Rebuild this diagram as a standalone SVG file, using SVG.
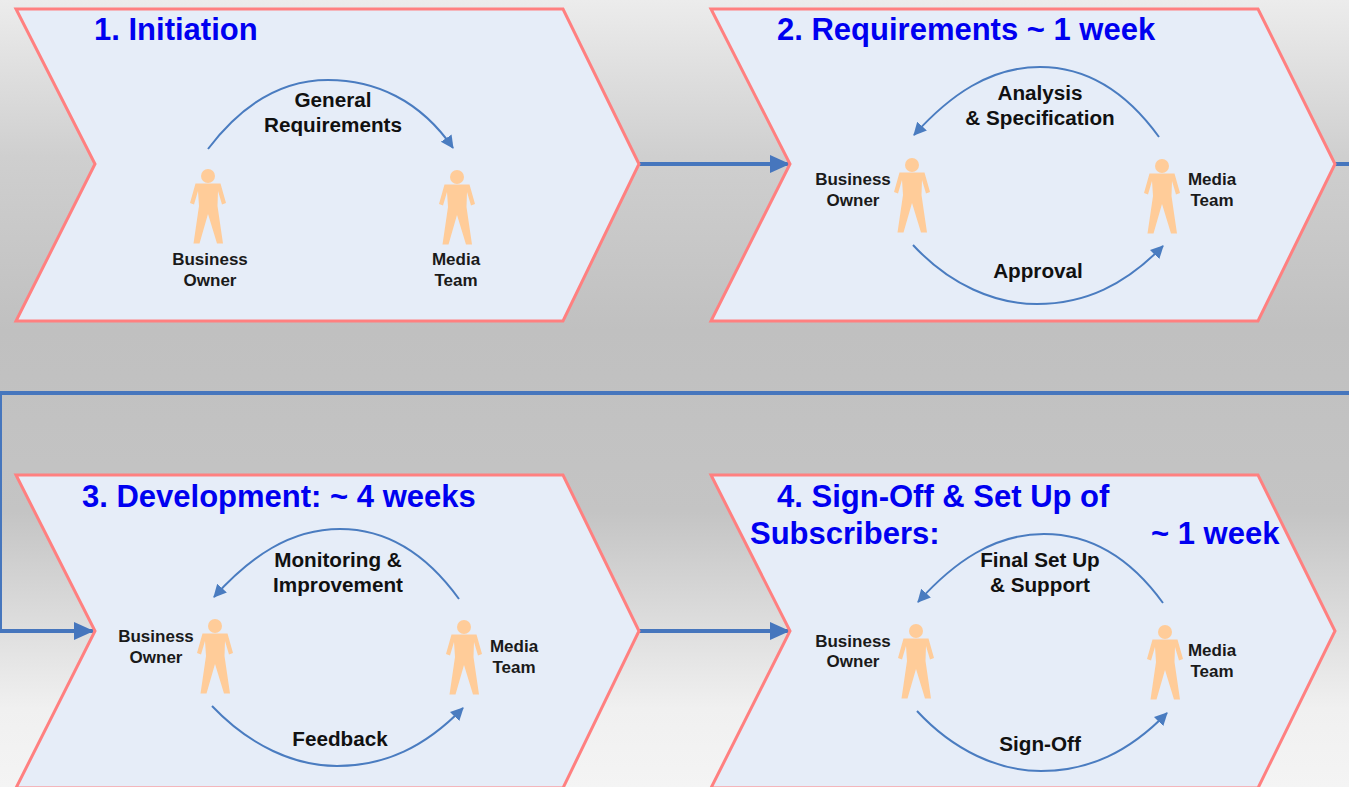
<svg xmlns="http://www.w3.org/2000/svg" width="1349" height="787" viewBox="0 0 1349 787">
<style>
.chev{fill:#e6edf8;stroke:#ff8080;stroke-width:3;stroke-linejoin:miter}
.title{font:bold 31px "Liberation Sans",Arial,sans-serif;fill:#0000f0}
.lab{font:bold 20.7px "Liberation Sans",Arial,sans-serif;fill:#111;text-anchor:middle}
.who{font:bold 17px "Liberation Sans",Arial,sans-serif;fill:#1a1a1a;text-anchor:middle}
.arc{fill:none;stroke:#4a7cc0;stroke-width:2;marker-end:url(#small)}
.link{fill:none;stroke:#4676bd;stroke-width:4}
.person{fill:#ffcc99}
</style>
<defs>
<linearGradient id="bg" x1="0" y1="0" x2="0" y2="1">
<stop offset="0" stop-color="#ececec"/><stop offset="0.2" stop-color="#cfcfcf"/><stop offset="0.42" stop-color="#c0c0c0"/><stop offset="0.65" stop-color="#c4c4c4"/><stop offset="0.9" stop-color="#f0f0f0"/><stop offset="1" stop-color="#f4f4f4"/>
</linearGradient>
<marker id="small" markerUnits="userSpaceOnUse" markerWidth="14" markerHeight="14" refX="12" refY="6.5" orient="auto"><path d="M0,0L13,6.5L0,13Z" fill="#4a7cc0"/></marker>
<marker id="big" markerUnits="userSpaceOnUse" markerWidth="20" markerHeight="20" refX="19" refY="10" orient="auto"><path d="M0,1L20,10L0,19Z" fill="#4676bd"/></marker>
<g id="fig"><circle cx="0" cy="0" r="7"/><path d="M-12.5,7.5H12.5L18,27L14,28.5L10,15L9.5,30L15,67.5H9L0,38L-8.5,67.5H-14.5L-9,30L-10,15L-14,28.5L-18,27Z"/></g>
</defs>
<rect width="1349" height="787" fill="url(#bg)"/>
<g id="connectors">
<path class="link" d="M639,164H789" marker-end="url(#big)"/>
<path class="link" d="M1335,164H1349"/>
<path class="link" d="M0,393H1349"/>
<path d="M1,393V631" fill="none" stroke="#4676bd" stroke-width="2"/>
<path class="link" d="M0,631H93" marker-end="url(#big)"/>
<path class="link" d="M639,631H789" marker-end="url(#big)"/>
</g>
<g id="step1">
<path class="chev" d="M16,9H563L639,164L563,321H16L95,164Z"/>
<text class="title" x="94" y="40">1. Initiation</text>
<path class="arc" d="M208,149C245,100 285,80 328,80C375,80 420,100 453,148"/>
<text class="lab" x="333" y="107">General</text>
<text class="lab" x="333" y="132">Requirements</text>
<use class="person" href="#fig" x="208" y="176"/>
<use class="person" href="#fig" x="457" y="177"/>
<text class="who" x="210" y="265">Business</text><text class="who" x="210" y="286">Owner</text>
<text class="who" x="456" y="265">Media</text><text class="who" x="456" y="286">Team</text>
</g>
<g id="step2">
<path class="chev" d="M711,9H1258L1335,164L1258,321H711L790,164Z"/>
<text class="title" x="777" y="40">2. Requirements ~ 1 week</text>
<path class="arc" d="M1159,137C1125,90 1085,67 1040,67C990,67 950,95 914,135"/>
<text class="lab" x="1040" y="100">Analysis</text>
<text class="lab" x="1040" y="125">&amp; Specification</text>
<path class="arc" d="M913,245C950,285 995,304 1037,304C1085,304 1125,285 1163,246"/>
<text class="lab" x="1038" y="278">Approval</text>
<use class="person" href="#fig" x="912" y="165"/>
<use class="person" href="#fig" x="1162" y="166"/>
<text class="who" x="853" y="185">Business</text><text class="who" x="853" y="206">Owner</text>
<text class="who" x="1212" y="185">Media</text><text class="who" x="1212" y="206">Team</text>
</g>
<g id="step3">
<path class="chev" d="M16,475H563L639,631L563,788H16L95,631Z"/>
<text class="title" x="82" y="507">3. Development: ~ 4 weeks</text>
<path class="arc" d="M459,599C425,552 385,529 340,529C290,529 250,557 214,597"/>
<text class="lab" x="338" y="567">Monitoring &amp;</text>
<text class="lab" x="338" y="592">Improvement</text>
<path class="arc" d="M212,706C250,746 295,766 337,766C385,766 425,747 463,708"/>
<text class="lab" x="340" y="746">Feedback</text>
<use class="person" href="#fig" x="215" y="626"/>
<use class="person" href="#fig" x="464" y="627"/>
<text class="who" x="156" y="642">Business</text><text class="who" x="156" y="663">Owner</text>
<text class="who" x="514" y="652">Media</text><text class="who" x="514" y="673">Team</text>
</g>
<g id="step4">
<path class="chev" d="M711,475H1258L1335,631L1258,788H711L790,631Z"/>
<text class="title" x="777" y="507">4. Sign-Off &amp; Set Up of</text>
<text class="title" x="750" y="544">Subscribers:</text>
<text class="title" x="1151" y="544">~ 1 week</text>
<path class="arc" d="M1163,603C1129,556 1089,534 1044,534C994,534 954,562 918,602"/>
<text class="lab" x="1040" y="567">Final Set Up</text>
<text class="lab" x="1040" y="592">&amp; Support</text>
<path class="arc" d="M917,711C954,751 999,771 1041,771C1089,771 1129,752 1167,713"/>
<text class="lab" x="1040" y="751">Sign-Off</text>
<use class="person" href="#fig" x="916" y="631"/>
<use class="person" href="#fig" x="1165" y="632"/>
<text class="who" x="853" y="647">Business</text><text class="who" x="853" y="667">Owner</text>
<text class="who" x="1212" y="656">Media</text><text class="who" x="1212" y="677">Team</text>
</g>
</svg>
